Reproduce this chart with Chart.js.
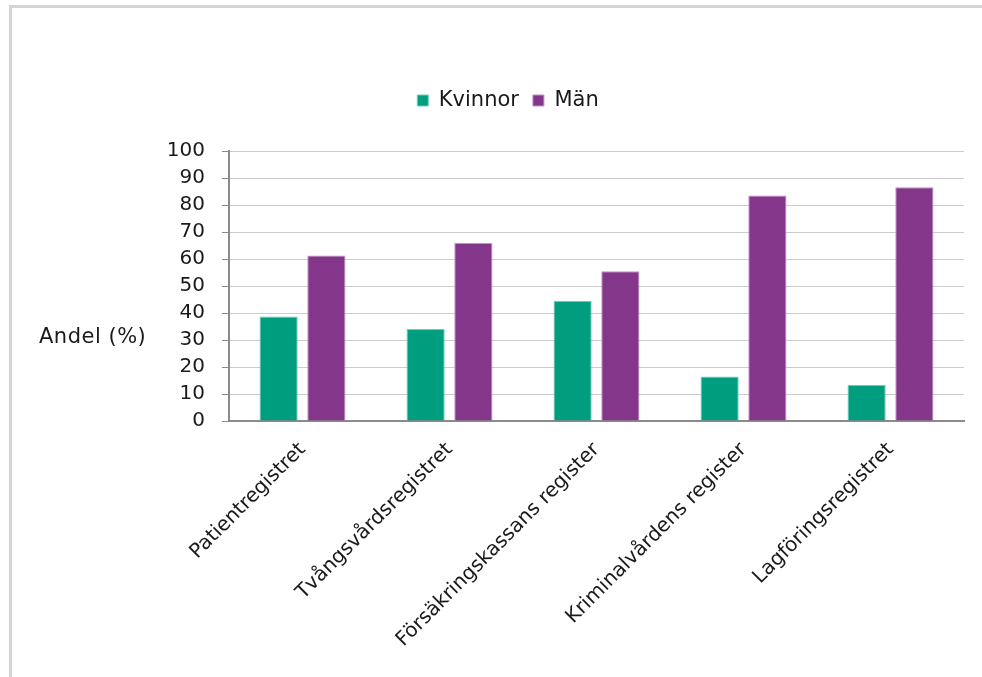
<!DOCTYPE html>
<html lang="sv">
<head>
<meta charset="utf-8">
<title>Andel kvinnor och män per register</title>
<script src="https://cdn.jsdelivr.net/npm/chart.js@4"></script>
<style>
  html, body { margin: 0; padding: 0; background: #fff; overflow: hidden; }
  canvas { display: block; }
</style>
</head>
<body>
<canvas id="regChart" width="982" height="677"></canvas>
<script>
const registers = ['Patientregistret', 'Tvångsvårdsregistret', 'Försäkringskassans register', 'Kriminalvårdens register', 'Lagföringsregistret'];
const kvinnor = [38.7, 34.1, 44.5, 16.5, 13.4];
const man = [61.3, 65.9, 55.5, 83.5, 86.6];
const yTicks = [0, 10, 20, 30, 40, 50, 60, 70, 80, 90, 100];
const yTitle = 'Andel (%)';

const FONT = 'DejaVu Sans';
const INK = '#1a1a1a';

// grey frame along the top and left edge
const framePlugin = {
  id: 'frame',
  beforeDraw(chart) {
    const c = chart.ctx;
    c.save();
    c.strokeStyle = '#d4d4d4';
    c.lineWidth = 3;
    c.beginPath();
    c.moveTo(10.5, chart.height);
    c.lineTo(10.5, 6.5);
    c.lineTo(chart.width, 6.5);
    c.stroke();
    c.restore();
  }
};

// horizontal axis title, left of the value labels
const yTitlePlugin = {
  id: 'yTitle',
  afterDraw(chart) {
    const c = chart.ctx;
    c.save();
    c.font = `21px "${FONT}"`;
    c.fillStyle = INK;
    c.textBaseline = 'middle';
    c.textAlign = 'left';
    c.letterSpacing = '0.5px';
    c.fillText(yTitle, 39, 338);
    c.restore();
  }
};

// extra room between legend and plot area
const legendGap = {
  id: 'legendGap',
  beforeInit(chart) {
    const fit = chart.legend.fit;
    chart.legend.fit = function () {
      fit.call(this);
      this.height += 30;
    };
  }
};

new Chart(document.getElementById('regChart'), {
  type: 'bar',
  data: {
    labels: registers,
    datasets: [
      { label: 'Kvinnor', data: kvinnor, backgroundColor: '#009e7e', borderColor: '#6fcfb9', borderWidth: 1 },
      { label: 'Män', data: man, backgroundColor: '#84378a', borderColor: '#c28fc6', borderWidth: 1 }
    ]
  },
  options: {
    responsive: false,
    animation: false,
    categoryPercentage: 0.65,
    barPercentage: 0.8,
    layout: { padding: { top: 76, right: 18, left: 52, bottom: 0 } },
    plugins: {
      tooltip: { enabled: false },
      legend: {
        position: 'top',
        labels: {
          font: { family: FONT, size: 21 },
          color: INK,
          boxWidth: 11,
          boxHeight: 11,
          padding: 14
        }
      }
    },
    scales: {
      x: {
        afterFit(s) { s.height = 256; },
        grid: { display: false, drawTicks: false },
        border: { color: '#8a8a8a', width: 2 },
        ticks: {
          font: { family: FONT, size: 20 },
          color: INK,
          minRotation: 45,
          maxRotation: 45,
          padding: 17
        }
      },
      y: {
        min: 0,
        max: 100,
        afterFit(s) { s.width = 177; },
        afterBuildTicks(s) { s.ticks = yTicks.map(v => ({ value: v })); },
        border: { color: '#8a8a8a', width: 2 },
        grid: {
          color: '#cccccc',
          lineWidth: 1,
          borderDash: [2, 1],
          tickLength: 7,
          tickColor: '#8a8a8a',
          tickBorderDash: []
        },
        ticks: {
          font: { family: FONT, size: 20 },
          color: INK,
          padding: 17
        }
      }
    }
  },
  plugins: [framePlugin, yTitlePlugin, legendGap]
});
</script>
</body>
</html>
